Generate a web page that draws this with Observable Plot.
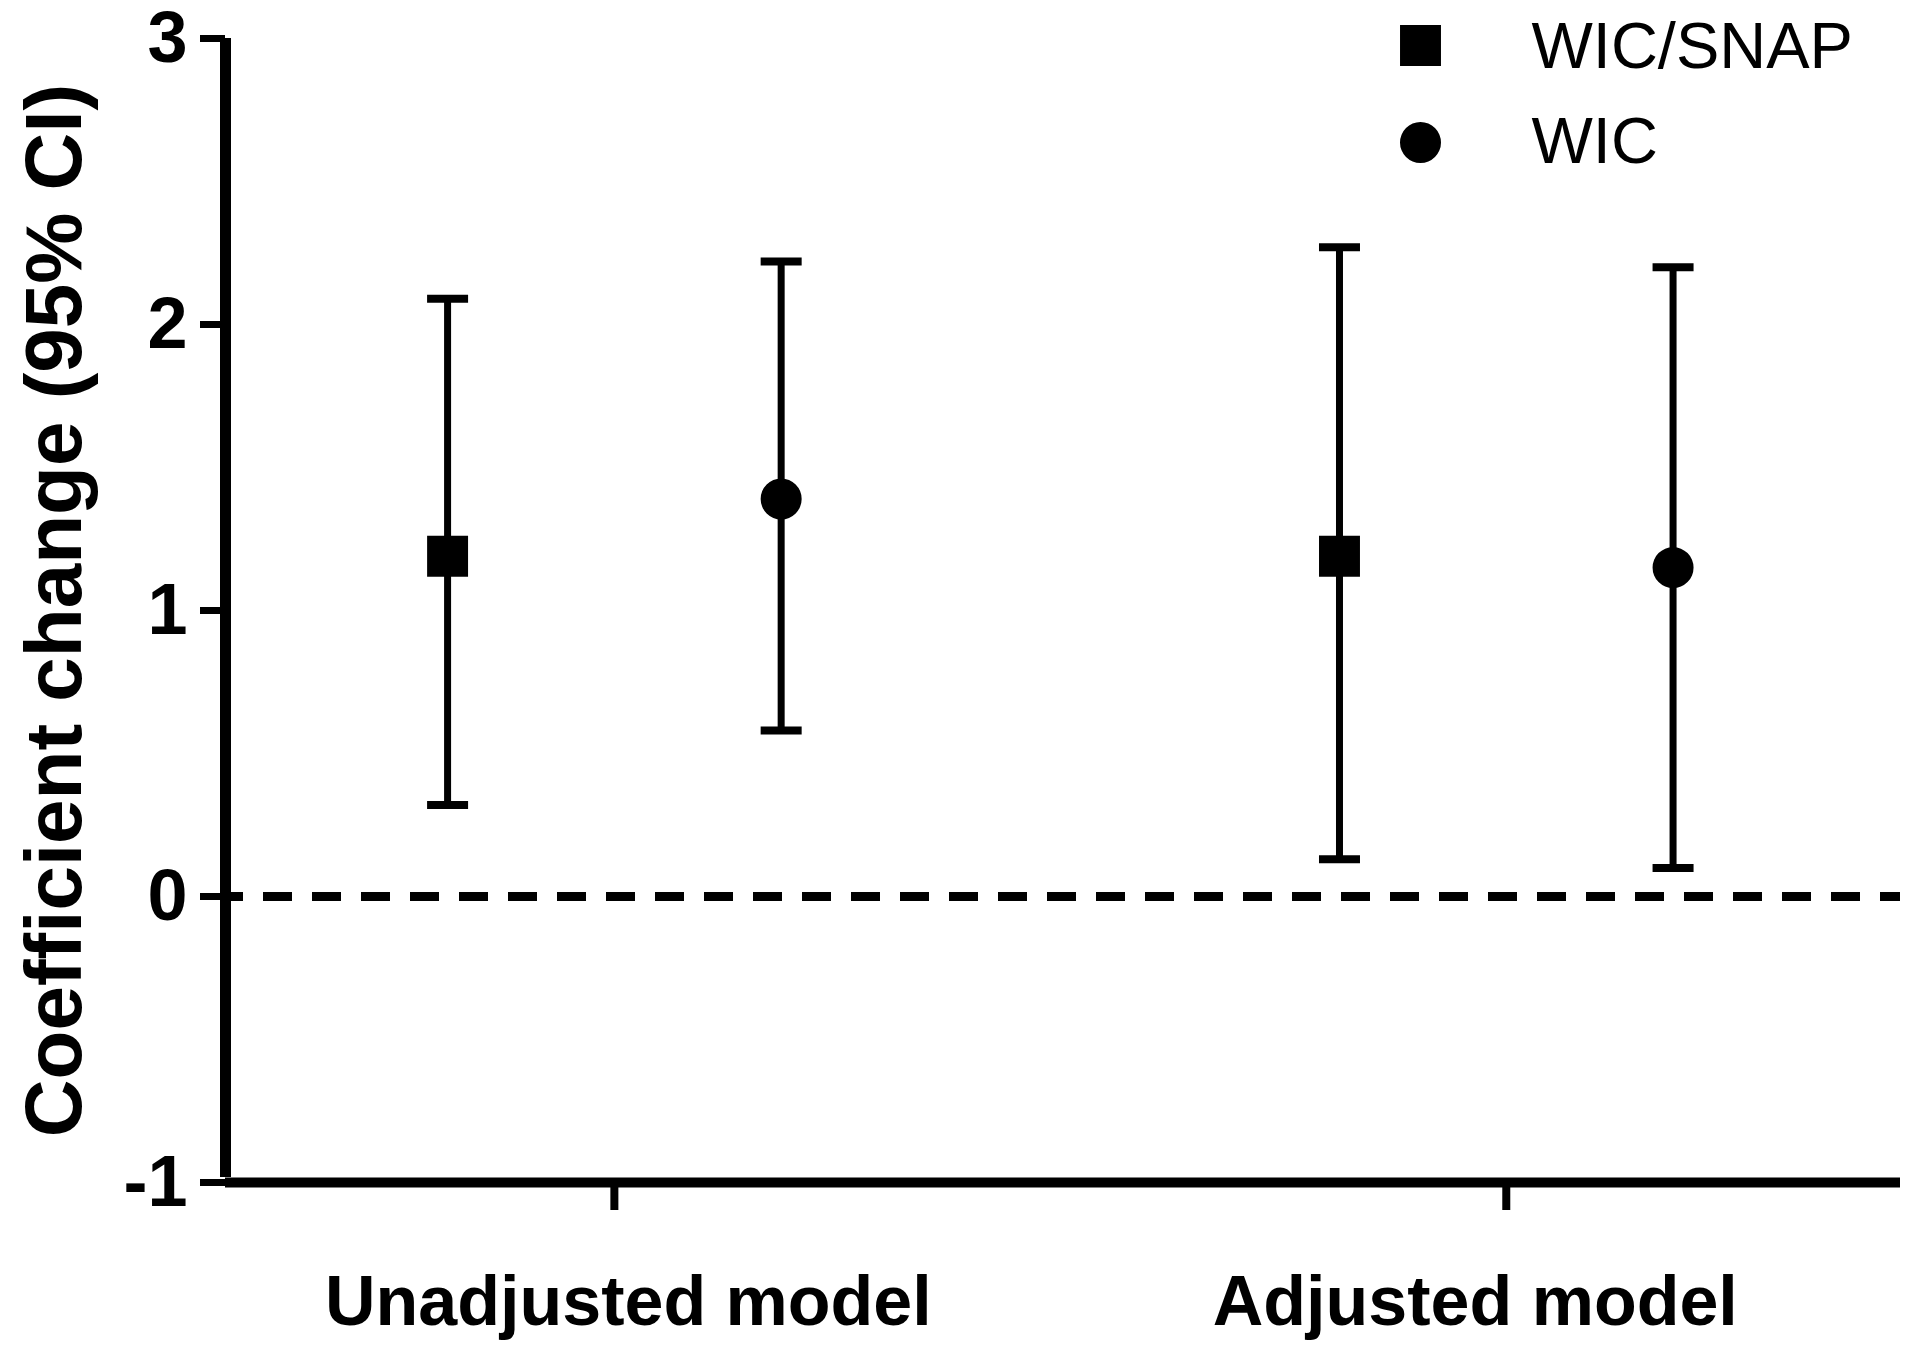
<!DOCTYPE html>
<html>
<head>
<meta charset="utf-8">
<script src="https://cdn.jsdelivr.net/npm/d3@7"></script>
<script src="https://cdn.jsdelivr.net/npm/@observablehq/plot@0.6"></script>
<style>
  html, body { margin: 0; padding: 0; background: #fff; }
</style>
</head>
<body>
<div id="chart"></div>
<script>
// ---- data ----
const models = ["Unadjusted model", "Adjusted model"];
const series = ["WIC/SNAP", "WIC"];
const wicSnapEst = [1.19, 1.19];
const wicSnapLo  = [0.32, 0.13];
const wicSnapHi  = [2.09, 2.27];
const wicEst = [1.39, 1.15];
const wicLo  = [0.58, 0.10];
const wicHi  = [2.22, 2.20];
const yTicks = [-1, 0, 1, 2, 3];
const yLabel = "Coefficient change (95% CI)";

// ---- build table ----
const groupOffset = 0.187; // horizontal separation of series within a model group
const rows = [];
models.forEach((m, i) => {
  rows.push({model: m, mi: i, series: series[0], est: wicSnapEst[i], lo: wicSnapLo[i], hi: wicSnapHi[i]});
  rows.push({model: m, mi: i, series: series[1], est: wicEst[i], lo: wicLo[i], hi: wicHi[i]});
});
const xPos = d => d.mi + (d.series === series[0] ? -groupOffset : groupOffset);

const capSymbol = {
  draw(context, size) {
    const w = Math.sqrt(size / Math.PI);
    context.moveTo(-w, 0);
    context.lineTo(w, 0);
  }
};

const font = "'Liberation Sans', Arial, Helvetica, sans-serif";

const chart = Plot.plot({
  width: 1920,
  height: 1345,
  marginLeft: 225,
  marginRight: 20,
  marginTop: 38,
  marginBottom: 163,
  style: {fontFamily: font, background: "#fff", color: "#000", overflow: "visible"},
  x: {domain: [-0.436, 1.442]},
  y: {domain: [-1, 3]},
  symbol: {domain: series, range: ["square", "circle"]},
  marks: [
    // zero reference line
    Plot.ruleY([0], {stroke: "#000", strokeWidth: 9, strokeDasharray: "29,20", strokeDashoffset: 11}),
    // axis lines
    Plot.ruleY([-1], {stroke: "#000", strokeWidth: 10}),
    Plot.ruleX([-0.436], {y1: -1, y2: 3, stroke: "#000", strokeWidth: 11, insetTop: -5}),
    // y axis
    Plot.axisY({
      ticks: yTicks, tickSize: 25, tickPadding: 13, strokeWidth: 7,
      tickFormat: d => (d < 0 ? "-" : "") + Math.abs(d),
      fontSize: 72, fontWeight: "bold", label: null
    }),
    // x axis ticks
    Plot.axisX({ticks: [0, 1], tickSize: 28, strokeWidth: 8, tickFormat: () => "", label: null}),
    // x axis labels
    Plot.axisX({ticks: [0], tickSize: 0, tickPadding: 93, dx: 14, tickFormat: i => models[i], fontSize: 70, fontWeight: "bold", label: null}),
    Plot.axisX({ticks: [1], tickSize: 0, tickPadding: 93, dx: -31, tickFormat: i => models[i], fontSize: 70, fontWeight: "bold", label: null}),
    // y axis title
    Plot.text([yLabel], {
      text: d => d, frameAnchor: "left", rotate: -90, dx: -170,
      textAnchor: "middle", lineAnchor: "middle", fontSize: 80, fontWeight: "bold", fill: "#000"
    }),
    // error bars
    Plot.ruleX(rows, {x: xPos, y1: "lo", y2: "hi", stroke: "#000", strokeWidth: 7}),
    Plot.dot(rows, {x: xPos, y: "hi", symbol: capSymbol, r: 20.5, stroke: "#000", fill: "none", strokeWidth: 8}),
    Plot.dot(rows, {x: xPos, y: "lo", symbol: capSymbol, r: 20.5, stroke: "#000", fill: "none", strokeWidth: 8}),
    // points
    Plot.dot(rows.filter(d => d.series === series[0]), {x: xPos, y: "est", symbol: "series", r: 23.1, fill: "#000", stroke: "none"}),
    Plot.dot(rows.filter(d => d.series === series[1]), {x: xPos, y: "est", symbol: "series", r: 20.5, fill: "#000", stroke: "none"}),
    // legend (inside plot, top-right)
    Plot.dot([series[0]], {frameAnchor: "top-right", dx: -480, dy: 7, symbol: d => d, r: 23.1, fill: "#000", stroke: "none"}),
    Plot.dot([series[1]], {frameAnchor: "top-right", dx: -480, dy: 104, symbol: d => d, r: 20.5, fill: "#000", stroke: "none"}),
    Plot.text([series[0]], {frameAnchor: "top-right", dx: -369, dy: 9, text: d => d, textAnchor: "start", lineAnchor: "middle", fontSize: 65, fill: "#000"}),
    Plot.text([series[1]], {frameAnchor: "top-right", dx: -369, dy: 104, text: d => d, textAnchor: "start", lineAnchor: "middle", fontSize: 65, fill: "#000"})
  ]
});
document.getElementById("chart").appendChild(chart);
</script>
</body>
</html>
